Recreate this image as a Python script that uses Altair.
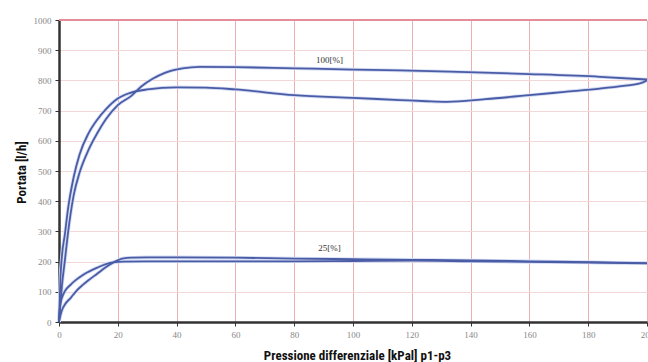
import altair as alt
import pandas as pd

# ---- data ----
a_x = [0, 0.5, 1, 2, 3, 5, 7, 10, 13, 16, 20, 24.5, 28, 32, 36, 42, 48, 60, 80, 100, 116, 133, 160, 184, 200]
a_y = [0, 60, 120, 204, 290, 420, 495, 569, 625, 672, 718, 748, 780, 806, 825, 840, 845, 844, 840, 836, 833, 829, 821, 812, 803]

b_x = [0, 0.5, 1, 2, 3, 5, 7, 10, 13, 16, 20, 24, 30, 40, 50, 60, 80, 100, 116, 125, 132, 145, 160, 172, 184, 192, 197.6, 200]
b_y = [0, 150, 220, 290, 370, 480, 555, 624, 670, 705, 740, 758, 770, 777, 776, 770, 751, 742, 735, 731, 729, 738, 751, 762, 773, 782, 790, 800]

c_x = [0, 0.5, 1, 2, 4, 6, 8, 10, 13, 16, 19, 22, 25, 30, 40, 60, 80, 100, 120, 140, 160, 180, 200]
c_y = [0, 22, 39, 58, 80, 104, 122, 138, 160, 182, 200, 211, 213, 214, 214, 213, 210, 208, 206, 204, 201, 198, 195]

d_x = [0, 0.3, 1, 2, 4, 6, 8, 10, 13, 16, 19, 22, 30, 40, 60, 80, 100, 120, 140, 160, 180, 200]
d_y = [0, 50, 80, 102, 124, 141, 155, 166, 180, 192, 198, 200, 201, 201, 201, 201, 202, 203, 201, 199, 197, 194]

series_names = ["100a", "100b", "25a", "25b"]

label_text = ["100[%]", "25[%]"]
label_x = [92, 92]
label_y = [867, 244]

x_ticks = [0, 20, 40, 60, 80, 100, 120, 140, 160, 180, 200]
y_ticks = [0, 100, 200, 300, 400, 500, 600, 700, 800, 900, 1000]

rows = []
for name, xs, ys in zip(series_names, [a_x, b_x, c_x, d_x], [a_y, b_y, c_y, d_y]):
    for i, (xv, yv) in enumerate(zip(xs, ys)):
        rows.append({"series": name, "x": xv, "y": yv, "i": i})
df = pd.DataFrame(rows)
labels = pd.DataFrame({"t": label_text, "x": label_x, "y": label_y})

serif = "Liberation Serif"
cond = "Liberation Sans Narrow, Roboto Condensed, DejaVu Sans Condensed, sans-serif"

xscale = alt.Scale(domain=[0, 200], nice=False, zero=True)
yscale = alt.Scale(domain=[0, 1000], nice=False)

xaxis = alt.Axis(
    values=x_ticks, format="d", title="Pressione differenziale [kPal] p1-p3",
    titleFont=cond, titleFontSize=13, titleFontWeight="bold", titleColor="#111",
    titleX=298, titleY=27, titleBaseline="top", titleAlign="center",
    labelFont=serif, labelFontSize=9, labelColor="#888", labelPadding=4,
    labelOverlap=False, labelFlush=False,
    tickSize=4, tickColor="#333", domainColor="#333", domainWidth=2.5,
    grid=True, gridColor="#eab0b6", gridWidth=1,
)
yaxis = alt.Axis(
    values=y_ticks, format="d", title="Portata [l/h]",
    titleFont=cond, titleFontSize=13, titleFontWeight="bold", titleColor="#111",
    titleX=-31, titleY=152, titleBaseline="bottom", titleAlign="center", titleAngle=270,
    labelFont=serif, labelFontSize=9, labelColor="#888", labelPadding=4,
    labelOverlap=False,
    tickSize=4, tickColor="#333", domainColor="#333", domainWidth=2.5,
    grid=True, gridColor="#f3d6d6", gridWidth=1,
)

X = alt.X("x:Q", scale=xscale, axis=xaxis, title="Pressione differenziale [kPal] p1-p3")
Y = alt.Y("y:Q", scale=yscale, axis=yaxis, title="Portata [l/h]")

base = alt.Chart(df)
halo = base.mark_line(strokeWidth=3.5, color="#d3dbf3", interpolate="monotone").encode(
    x=X, y=Y, detail="series:N", order="i:Q",
)
lines = base.mark_line(strokeWidth=1.8, color="#4a5ca6", interpolate="monotone").encode(
    x=X, y=Y, detail="series:N", order="i:Q",
)
toprule = alt.Chart(pd.DataFrame({"y": [y_ticks[-1]]})).mark_rule(color="#e58c9a", strokeWidth=2).encode(
    y=Y,
)
txt = alt.Chart(labels).mark_text(font=serif, fontSize=9, color="#333", align="center", baseline="middle").encode(
    x=X, y=Y, text="t:N",
)

chart = alt.layer(halo, toprule, lines, txt).properties(
    width=588, height=302,
    autosize=alt.AutoSizeParams(type="none"),
    padding={"left": 59, "top": 20, "right": 1, "bottom": 40},
    background="white",
).configure_view(stroke=None)

chart.save("out.html", embed_options={"renderer": "svg", "actions": False})
